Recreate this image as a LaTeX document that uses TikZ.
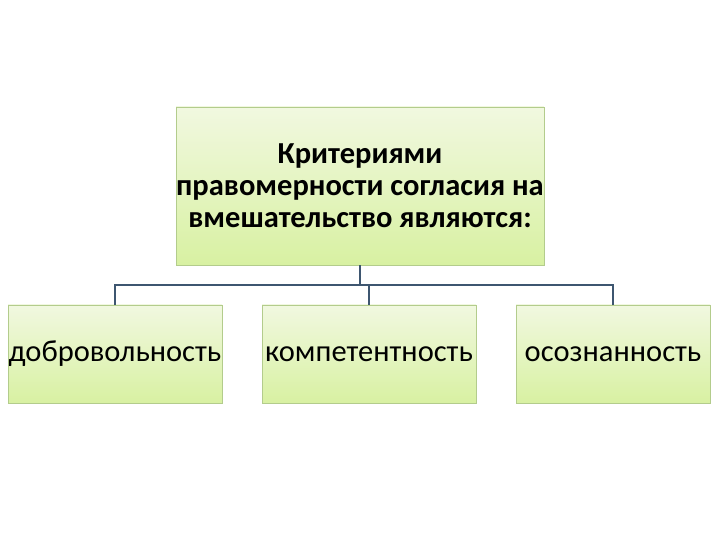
\documentclass[tikz,border=0pt]{standalone}
\usepackage{fontspec}
\setmainfont{Carlito}
\usepackage{tikz}
\usetikzlibrary{positioning, calc}

\definecolor{boxtop}{HTML}{F1F8E0}
\definecolor{boxbot}{HTML}{D8F1A2}
\definecolor{boxline}{HTML}{B3CC8C}
\definecolor{linkline}{HTML}{3E5670}

\begin{document}
\begin{tikzpicture}[
  x=1pt, y=1pt,
  font=\fontsize{30.5}{36}\selectfont,
  crit/.style={
    rectangle,
    draw=boxline,
    top color=boxtop,
    bottom color=boxbot,
    inner sep=0pt,
    align=center,
  },
  link/.style={draw=linkline, line width=1.6pt},
]
\useasboundingbox (0,0) rectangle (720,540);

% --- header ---
\node[crit, minimum width=366pt, minimum height=158pt,
      font=\fontsize{30.5}{32}\selectfont\bfseries] (Head) at (360,354)
  {Критериями\\правомерности согласия на\\вмешательство являются:};

% --- criteria ---
\node[crit, minimum width=214pt, minimum height=98pt] (Vol) at (115,186) {добровольность};
\node[crit, minimum width=214pt, minimum height=98pt] (Comp) at (369,186) {компетентность};
\node[crit, minimum width=194pt, minimum height=98pt] (Aware) at (613,186) {осознанность};

% bus line between header and criteria
\coordinate (Bus) at ($(Head.south)+(0,-20)$);
\draw[link] (Head.south) -- (Bus);
\draw[link] (Vol.north) |- (Bus -| Comp.north) -- (Comp.north);
\draw[link] (Bus -| Comp.north) -| (Aware.north);
\end{tikzpicture}
\end{document}
